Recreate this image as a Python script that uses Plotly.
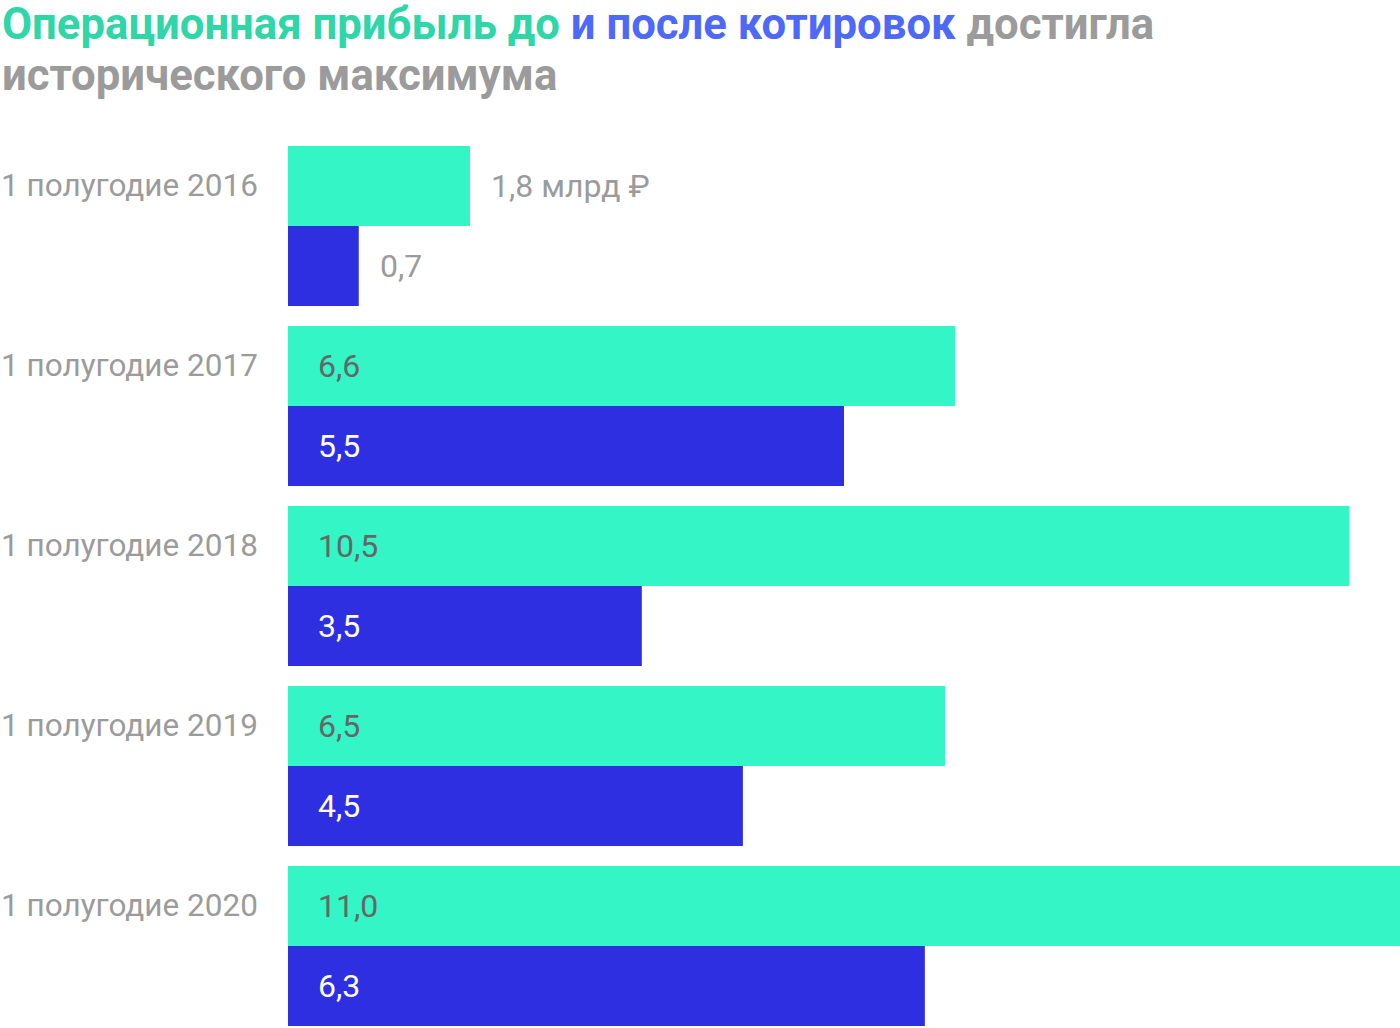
import plotly.graph_objects as go

# данные
periods = ["1 полугодие 2016", "1 полугодие 2017", "1 полугодие 2018",
           "1 полугодие 2019", "1 полугодие 2020"]
before = [1.8, 6.6, 10.5, 6.5, 11.0]
after = [0.7, 5.5, 3.5, 4.5, 6.3]
before_labels = ["1,8 млрд ₽", "6,6", "10,5", "6,5", "11,0"]
after_labels = ["0,7", "5,5", "3,5", "4,5", "6,3"]

GREEN = "#33f5c5"
BLUE = "#2f2fe2"
GRAY = "#9b9b9b"
FONT = "Roboto"

fig = go.Figure()
fig.add_trace(go.Bar(y=periods, x=before, orientation="h",
                     marker=dict(color=GREEN, line_width=0), name="до"))
fig.add_trace(go.Bar(y=periods, x=after, orientation="h",
                     marker=dict(color=BLUE, line_width=0), name="после"))

# подписи значений
for i, p in enumerate(periods):
    outside = before[i] < 3
    fig.add_annotation(
        x=before[i] if outside else 0, y=p, xanchor="left", yanchor="middle",
        xshift=19 if outside else 28, yshift=40, showarrow=False,
        text=before_labels[i],
        font=dict(family=FONT, size=32, color=GRAY if outside else "#666666"))
    outside = after[i] < 3
    fig.add_annotation(
        x=after[i] if outside else 0, y=p, xanchor="left", yanchor="middle",
        xshift=19 if outside else 28, yshift=-40, showarrow=False,
        text=after_labels[i],
        font=dict(family=FONT, size=32, color=GRAY if outside else "white"))
    # подпись категории (от левого края страницы)
    fig.add_annotation(
        x=0, xref="paper", y=p, xanchor="left", yanchor="middle",
        xshift=-289, yshift=40, showarrow=False, text=p,
        font=dict(family=FONT, size=31.5, color=GRAY))

# заголовок, две строки
line1 = ("<b><span style='color:#2ed6a8'>Операционная прибыль до</span> "
         "<span style='color:#4e68f7'>и после котировок</span> достигла</b>")
line2 = "<b>исторического максимума</b>"
for txt, shift in [(line1, 112), (line2, 61)]:
    fig.add_annotation(
        x=0, xref="paper", y=1, yref="paper", xanchor="left", yanchor="middle",
        xshift=-288, yshift=shift, showarrow=False, text=txt,
        font=dict(family=FONT, size=43.7, color=GRAY))

fig.update_layout(
    width=1400, height=1028,
    margin=dict(l=288, r=0, t=136, b=0),
    paper_bgcolor="white", plot_bgcolor="white",
    barmode="group", bargap=20 / 180, bargroupgap=0,
    showlegend=False,
    xaxis=dict(range=[0, 11.0], visible=False, fixedrange=True),
    yaxis=dict(range=[4.456, -0.5], visible=False, fixedrange=True,
               categoryorder="array", categoryarray=periods),
)

fig.write_html("out.html", config={"displayModeBar": False},
               post_script="document.body.style.margin='0';")
